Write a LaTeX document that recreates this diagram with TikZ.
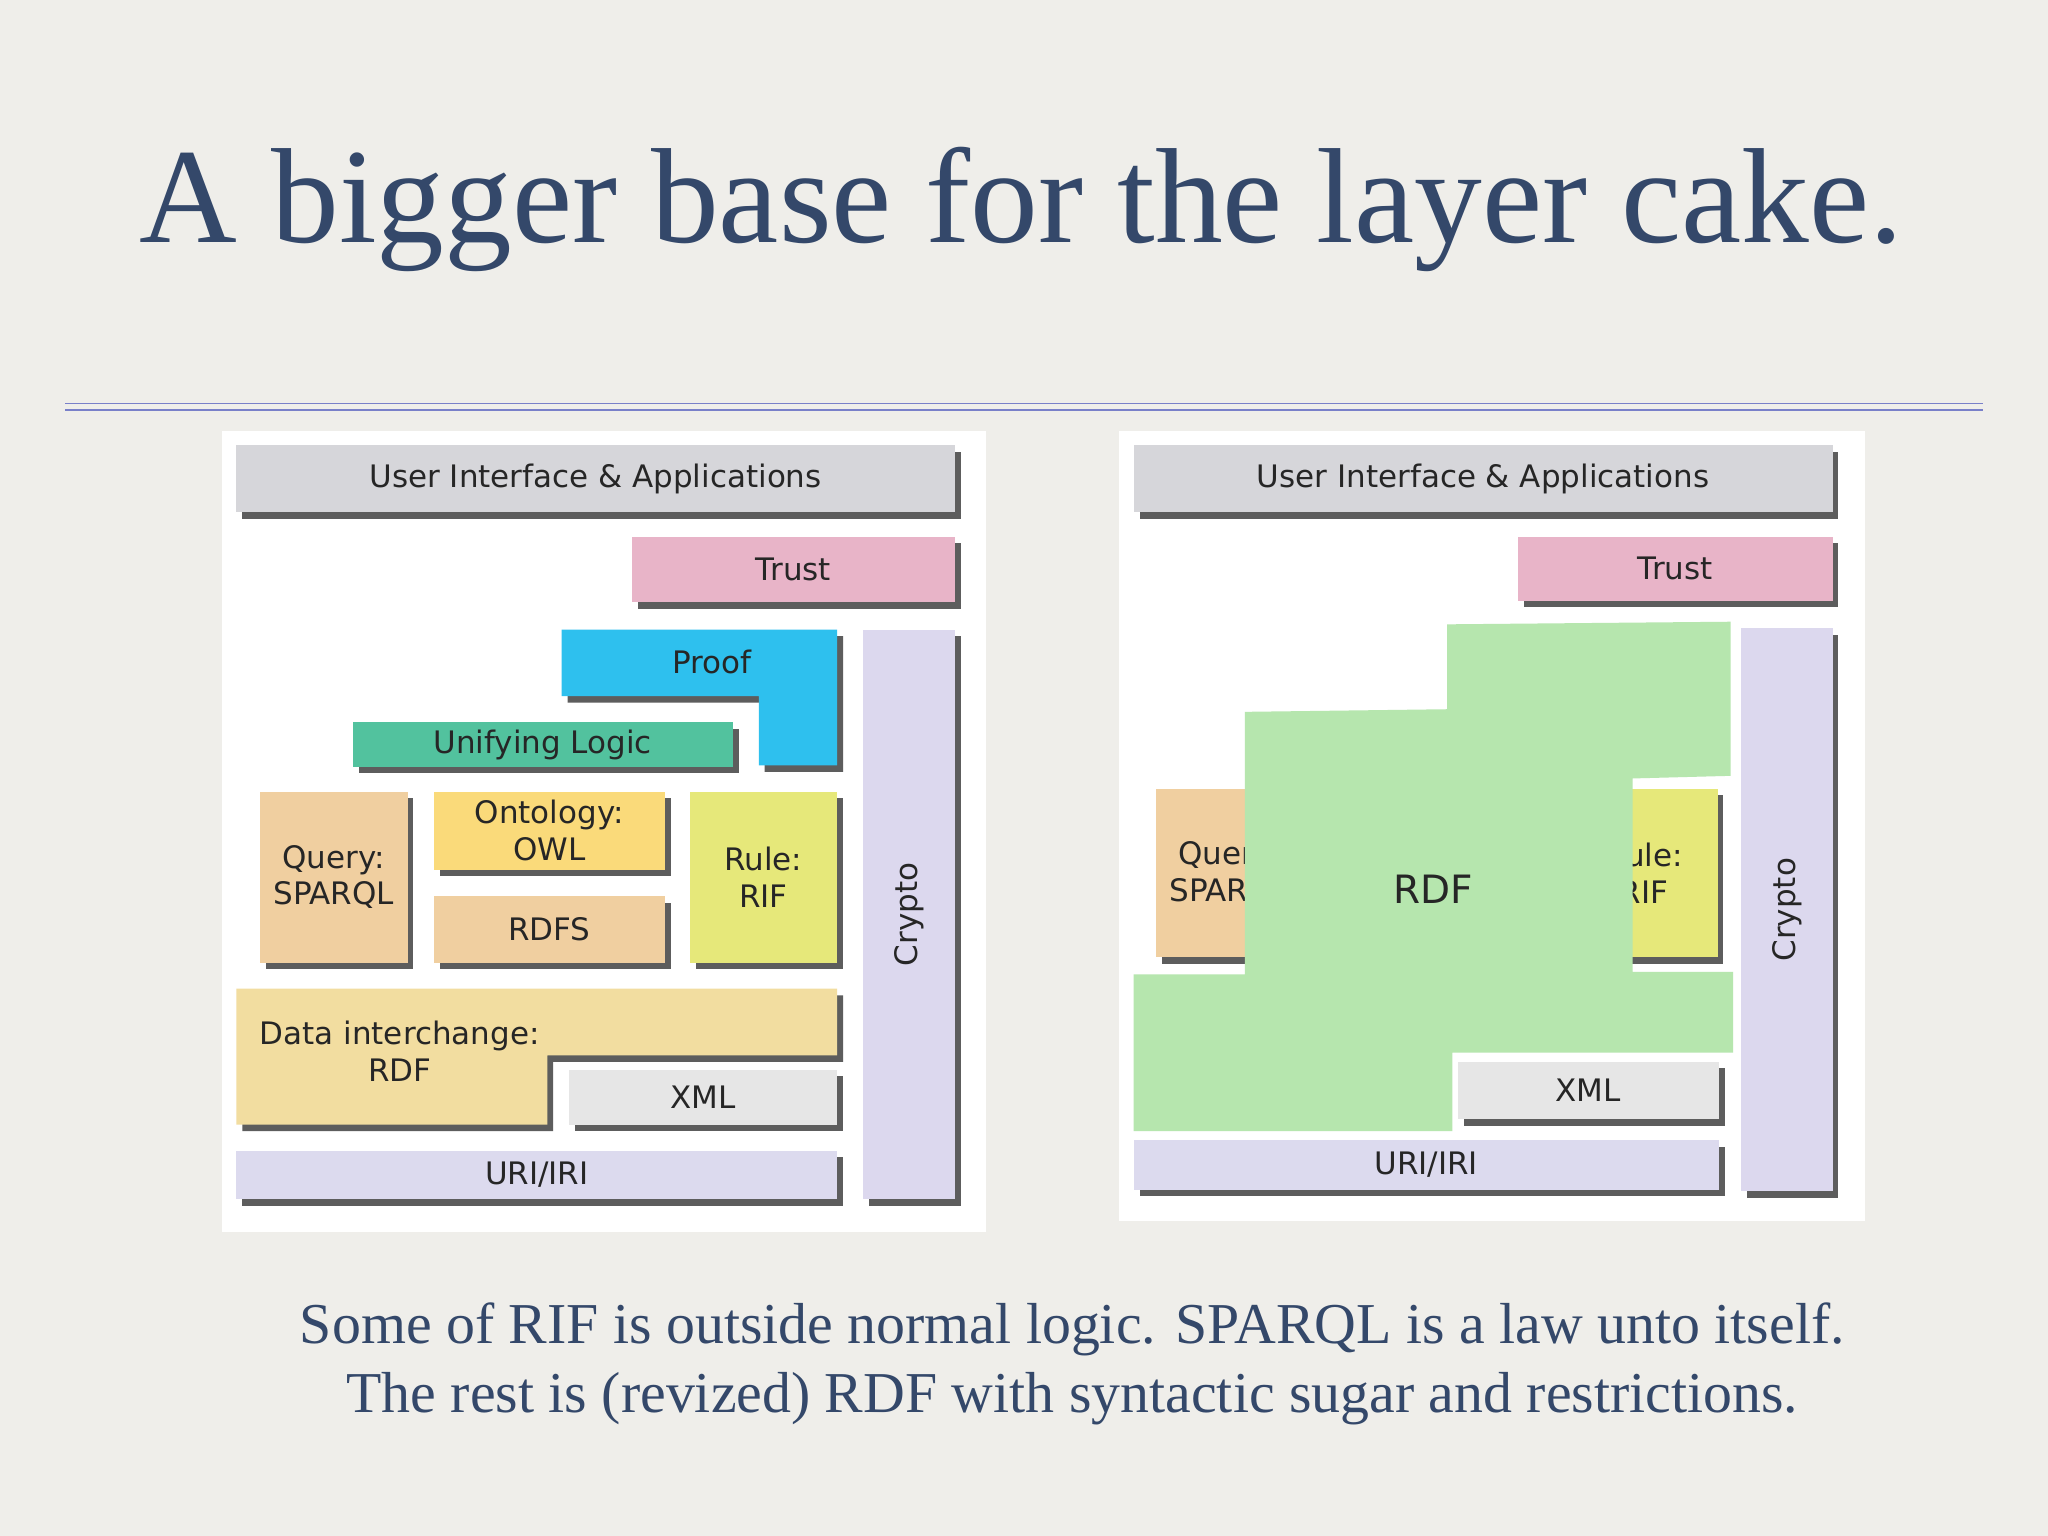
\documentclass[tikz,border=0pt]{standalone}
\usepackage{fontspec}
\setmainfont{Liberation Serif}
\newfontfamily\dsans{DejaVu Sans}
\usetikzlibrary{shadows}
\definecolor{bg}{HTML}{EFEEEA}
\definecolor{ttl}{HTML}{34486A}
\definecolor{cUI}{HTML}{D6D6DA}
\definecolor{cTr}{HTML}{E8B4C8}
\definecolor{cPr}{HTML}{2EC0EE}
\definecolor{cUL}{HTML}{52C29E}
\definecolor{cCr}{HTML}{DCD8EE}
\definecolor{cQ}{HTML}{F0CFA0}
\definecolor{cOn}{HTML}{FADA7A}
\definecolor{cRu}{HTML}{E6E87A}
\definecolor{cDI}{HTML}{F2DDA0}
\definecolor{cX}{HTML}{E6E6E6}
\definecolor{cU}{HTML}{DCDAEE}
\definecolor{cG}{HTML}{B6E6AE}
\tikzset{sh/.style={drop shadow={shadow xshift=0.09cm,shadow yshift=-0.1cm,fill=black!70,opacity=0.9}},
lbl/.style={font=\dsans\fontsize{13.5}{16}\selectfont,align=center,text=black!85}}
\newcommand\bx[6]{\fill[#5,sh] (#1,#2) rectangle (#3,#4); \node[lbl] (#6) at ({(#1+#3)/2},{(#2+#4)/2})}
\begin{document}
\begin{tikzpicture}[x=0.02cm,y=-0.02cm]
\fill[bg] (0,0) rectangle (1568,1176);
\node[text=ttl,font=\fontsize{59}{64}\selectfont] (title) at (782,160) {A bigger base for the layer cake.};
\draw[ttl!60!blue!60,line width=0.6pt] (50,309) -- (1518,309) (50,314) -- (1518,314);
% left panel
\fill[white] (170,330) rectangle (755,943);
\bx{181}{341}{731}{392}{cUI}{a1} {User Interface \& Applications};
\bx{484}{411}{731}{461}{cTr}{a2} {Trust};
\fill[cPr,sh] (430,482) -- (641,482) -- (641,586) -- (581,586) -- (581,533) -- (430,533) -- cycle;
\node[lbl] (a3) at (545,507) {Proof};
\bx{270}{553}{561}{587}{cUL}{a4} {Unifying Logic};
\bx{661}{482}{731}{918}{cCr}{a5} [rotate=90] {Crypto};
\bx{199}{606}{312}{737}{cQ}{a6} {Query:\\SPARQL};
\bx{332}{606}{509}{666}{cOn}{a7} {Ontology:\\OWL};
\bx{332}{686}{509}{737}{cQ}{a8} {RDFS};
\bx{528}{606}{641}{737}{cRu}{a9} {Rule:\\RIF};
\fill[cDI,sh] (181,757) -- (641,757) -- (641,808) -- (419,808) -- (419,861) -- (181,861) -- cycle;
\node[lbl] (a10) at (306,805) {Data interchange:\\RDF};
\bx{436}{819}{641}{861}{cX}{a11} {XML};
\bx{181}{881}{641}{918}{cU}{a12} {URI/IRI};
% right panel
\fill[white] (857,330) rectangle (1428,935);
\bx{868}{341}{1403}{392}{cUI}{b1} {User Interface \& Applications};
\bx{1162}{411}{1403}{460}{cTr}{b2} {Trust};
\bx{1333}{481}{1403}{912}{cCr}{b3} [rotate=90] {Crypto};
\bx{885}{604}{998}{733}{cQ}{b4} {Query:\\SPARQL};
\bx{1202}{604}{1315}{733}{cRu}{b5} {Rule:\\RIF};
\fill[cG] (953,545) -- (1108,543) -- (1108,478) -- (1325,476) -- (1325,594) -- (1250,596) -- (1250,744) -- (1327,744) -- (1327,806) -- (1112,806) -- (1112,866) -- (868,866) -- (868,746) -- (953,746) -- cycle;
\node[lbl,font=\dsans\fontsize{17}{20}\selectfont] (b6) at (1097,681) {RDF};
\bx{1116}{813}{1316}{857}{cX}{b7} {XML};
\bx{868}{873}{1316}{911}{cU}{b8} {URI/IRI};
\node[text=ttl,font=\fontsize{25.2}{30}\selectfont,align=center] (cap) at (821,1044) {Some of RIF is outside normal logic. SPARQL is a law unto itself.\\The rest is (revized) RDF with syntactic sugar and restrictions.};
\end{tikzpicture}
\end{document}
